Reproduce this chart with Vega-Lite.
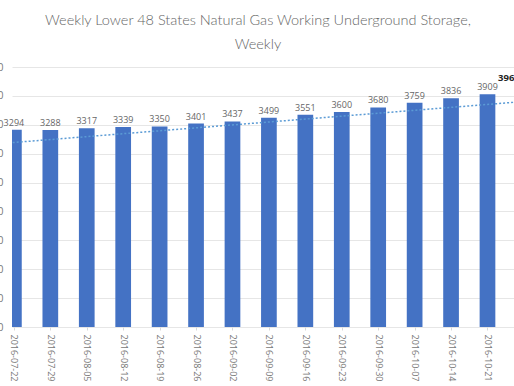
{
  "$schema": "https://vega.github.io/schema/vega-lite/v6.json",
  "width": 502,
  "height": 260,
  "autosize": {"type": "none"},
  "padding": {"left": 12, "top": 67, "right": 0, "bottom": 59},
  "background": "white",
  "title": {
    "text": ["Weekly Lower 48 States Natural Gas Working Underground Storage,", "Weekly"],
    "font": "Lato",
    "fontWeight": 300,
    "fontSize": 14.5,
    "color": "#666666",
    "lineHeight": 24,
    "anchor": "middle",
    "offset": 10,
    "dx": -5
  },
  "config": {
    "view": {"stroke": null},
    "axis": {"labelFont": "Open Sans", "labelColor": "#777777", "labelFontSize": 9}
  },
  "data": {
    "format": {"parse": {"date": "date"}},
    "values": [
      {"date": "2016-07-22", "value": 3294},
      {"date": "2016-07-29", "value": 3288},
      {"date": "2016-08-05", "value": 3317},
      {"date": "2016-08-12", "value": 3339},
      {"date": "2016-08-19", "value": 3350},
      {"date": "2016-08-26", "value": 3401},
      {"date": "2016-09-02", "value": 3437},
      {"date": "2016-09-09", "value": 3499},
      {"date": "2016-09-16", "value": 3551},
      {"date": "2016-09-23", "value": 3600},
      {"date": "2016-09-30", "value": 3680},
      {"date": "2016-10-07", "value": 3759},
      {"date": "2016-10-14", "value": 3836},
      {"date": "2016-10-21", "value": 3909},
      {"date": "2016-10-28", "value": 3963}
    ]
  },
  "encoding": {
    "x": {
      "field": "date",
      "type": "temporal",
      "title": null,
      "scale": {"type": "utc", "domain": [1469114064000, 1477448121600], "nice": false, "padding": 0},
      "axis": {
        "values": [
          {"year": 2016, "month": 7, "date": 22, "utc": true},
          {"year": 2016, "month": 7, "date": 29, "utc": true},
          {"year": 2016, "month": 8, "date": 5, "utc": true},
          {"year": 2016, "month": 8, "date": 12, "utc": true},
          {"year": 2016, "month": 8, "date": 19, "utc": true},
          {"year": 2016, "month": 8, "date": 26, "utc": true},
          {"year": 2016, "month": 9, "date": 2, "utc": true},
          {"year": 2016, "month": 9, "date": 9, "utc": true},
          {"year": 2016, "month": 9, "date": 16, "utc": true},
          {"year": 2016, "month": 9, "date": 23, "utc": true},
          {"year": 2016, "month": 9, "date": 30, "utc": true},
          {"year": 2016, "month": 10, "date": 7, "utc": true},
          {"year": 2016, "month": 10, "date": 14, "utc": true},
          {"year": 2016, "month": 10, "date": 21, "utc": true}
        ],
        "labelExpr": "utcFormat(datum.value, '%Y-%m-%d')",
        "labelAngle": 90,
        "labelAlign": "left",
        "labelBaseline": "middle",
        "domain": false,
        "grid": false,
        "ticks": true,
        "tickSize": 3,
        "tickColor": "#d9d9d9",
        "labelPadding": 4,
        "labelOverlap": false,
        "labelBound": false,
        "labelFlush": false
      }
    }
  },
  "layer": [
    {
      "encoding": {
        "y": {
          "field": "value",
          "type": "quantitative",
          "scale": {"domain": [-121, 4379], "nice": false, "zero": false},
          "axis": null
        }
      },
      "layer": [
        {
          "mark": {"type": "bar", "color": "#4472c4", "width": 15.7, "clip": true},
          "encoding": {"y2": {"datum": -121}}
        },
        {
          "transform": [{"filter": "time(datum.date) < utc(2016, 9, 28)"}],
          "mark": {"type": "text", "font": "Open Sans", "fontSize": 9, "color": "#666666", "baseline": "alphabetic", "dy": -4},
          "encoding": {"text": {"field": "value", "type": "quantitative", "format": "d"}}
        },
        {
          "transform": [{"filter": "time(datum.date) >= utc(2016, 9, 28)"}],
          "mark": {"type": "text", "font": "Open Sans", "fontSize": 9.5, "fontWeight": "bold", "color": "#252525", "baseline": "alphabetic", "dx": -15, "dy": -10},
          "encoding": {"text": {"field": "value", "type": "quantitative", "format": "d"}}
        }
      ]
    },
    {
      "transform": [{"regression": "value", "on": "date", "extent": [1469059200000, 1477785600000]}],
      "mark": {"type": "line", "color": "#5b9bd5", "strokeDash": [2, 2], "strokeWidth": 1.5, "clip": true},
      "encoding": {
        "y": {
          "field": "value",
          "type": "quantitative",
          "scale": {"domain": [0, 4500], "nice": false},
          "axis": {
            "orient": "left",
            "values": [0, 500, 1000, 1500, 2000, 2500, 3000, 3500, 4000, 4500],
            "format": "d",
            "grid": true,
            "gridColor": "#e6e6e6",
            "domain": false,
            "ticks": false,
            "labelPadding": 9,
            "labelFontSize": 10,
            "title": null
          }
        }
      }
    }
  ],
  "resolve": {"scale": {"y": "independent"}}
}
